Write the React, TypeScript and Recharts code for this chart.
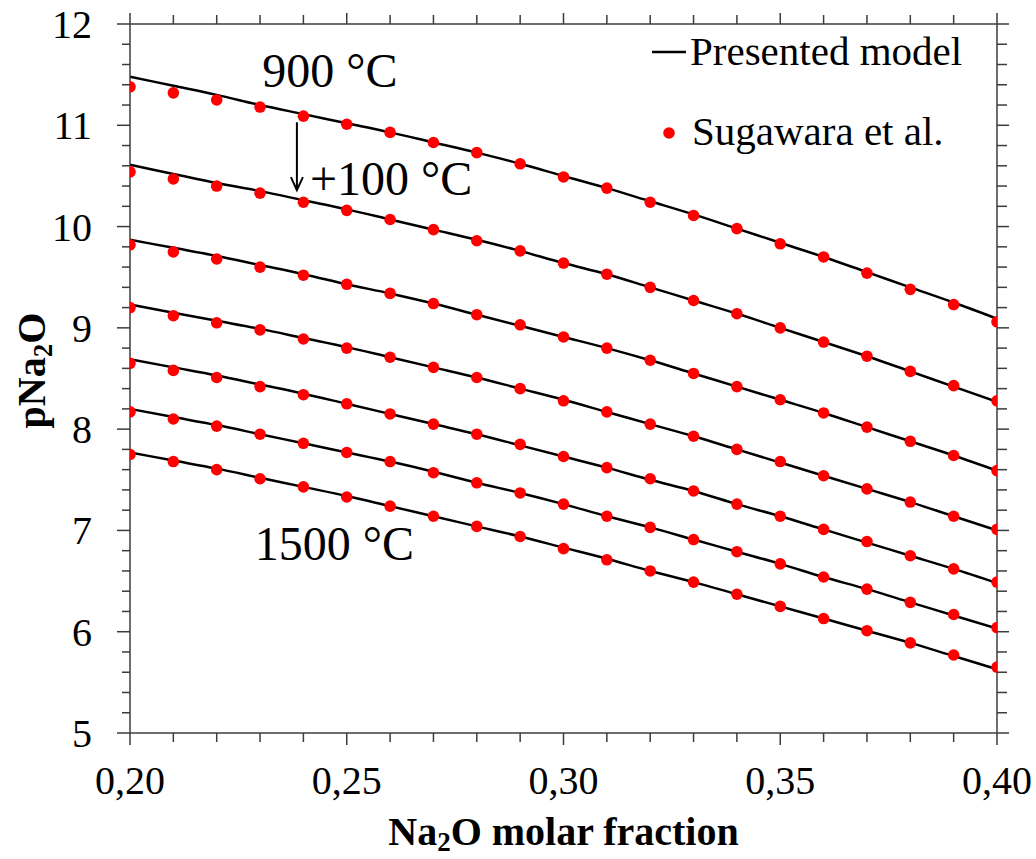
import { ComposedChart, Line, XAxis, YAxis, Legend, ReferenceDot, ReferenceLine } from 'recharts'

// Na2O molar fraction grid
const molarFraction = [0.2, 0.21, 0.22, 0.23, 0.24, 0.25, 0.26, 0.27, 0.28, 0.29, 0.3, 0.31, 0.32, 0.33, 0.34, 0.35, 0.36, 0.37, 0.38, 0.39, 0.4]

// model curves, pNa2O
const model900 = [11.48, 11.39, 11.3, 11.2, 11.11, 11.02, 10.93, 10.83, 10.73, 10.62, 10.5, 10.38, 10.25, 10.12, 9.98, 9.84, 9.7, 9.55, 9.4, 9.25, 9.09]
const model1000 = [10.61, 10.52, 10.43, 10.35, 10.26, 10.17, 10.07, 9.97, 9.87, 9.76, 9.64, 9.53, 9.4, 9.27, 9.14, 9.0, 8.86, 8.72, 8.57, 8.42, 8.27]
const model1100 = [9.87, 9.79, 9.71, 9.62, 9.53, 9.43, 9.34, 9.24, 9.13, 9.02, 8.91, 8.8, 8.68, 8.55, 8.42, 8.29, 8.16, 8.02, 7.88, 7.74, 7.59]
const model1200 = [9.23, 9.15, 9.07, 8.99, 8.9, 8.81, 8.71, 8.61, 8.51, 8.4, 8.29, 8.17, 8.05, 7.93, 7.8, 7.67, 7.54, 7.41, 7.28, 7.14, 7.0]
const model1300 = [8.69, 8.61, 8.53, 8.44, 8.35, 8.25, 8.15, 8.05, 7.95, 7.84, 7.73, 7.62, 7.5, 7.39, 7.26, 7.14, 7.01, 6.88, 6.75, 6.62, 6.48]
const model1400 = [8.2, 8.12, 8.04, 7.95, 7.86, 7.77, 7.68, 7.58, 7.47, 7.37, 7.26, 7.14, 7.03, 6.91, 6.79, 6.67, 6.54, 6.42, 6.29, 6.16, 6.03]
const model1500 = [7.77, 7.69, 7.61, 7.52, 7.43, 7.34, 7.24, 7.14, 7.04, 6.94, 6.83, 6.72, 6.6, 6.49, 6.37, 6.25, 6.13, 6.01, 5.89, 5.76, 5.63]

// Sugawara et al. measurements
const sugawara900 = [11.38, 11.32, 11.25, 11.18, 11.09, 11.01, 10.93, 10.83, 10.73, 10.62, 10.49, 10.38, 10.24, 10.11, 9.98, 9.83, 9.7, 9.54, 9.38, 9.23, 9.06]
const sugawara1000 = [10.54, 10.47, 10.4, 10.33, 10.24, 10.16, 10.07, 9.97, 9.86, 9.76, 9.64, 9.53, 9.4, 9.27, 9.14, 9.0, 8.86, 8.72, 8.57, 8.43, 8.28]
const sugawara1100 = [9.82, 9.75, 9.68, 9.6, 9.52, 9.43, 9.34, 9.24, 9.13, 9.03, 8.91, 8.8, 8.68, 8.55, 8.42, 8.29, 8.16, 8.02, 7.88, 7.74, 7.59]
const sugawara1200 = [9.2, 9.12, 9.05, 8.98, 8.89, 8.8, 8.71, 8.61, 8.51, 8.4, 8.28, 8.17, 8.05, 7.93, 7.8, 7.68, 7.54, 7.41, 7.28, 7.14, 7.01]
const sugawara1300 = [8.65, 8.58, 8.51, 8.42, 8.34, 8.25, 8.15, 8.05, 7.95, 7.85, 7.73, 7.62, 7.51, 7.39, 7.26, 7.14, 7.01, 6.89, 6.75, 6.62, 6.49]
const sugawara1400 = [8.17, 8.1, 8.03, 7.95, 7.86, 7.77, 7.68, 7.57, 7.47, 7.37, 7.26, 7.14, 7.03, 6.91, 6.79, 6.67, 6.54, 6.42, 6.29, 6.17, 6.04]
const sugawara1500 = [7.75, 7.68, 7.6, 7.51, 7.43, 7.33, 7.24, 7.14, 7.04, 6.94, 6.82, 6.71, 6.6, 6.49, 6.37, 6.25, 6.13, 6.01, 5.89, 5.77, 5.65]

const temperatures = [900, 1000, 1100, 1200, 1300, 1400, 1500]
const models = [model900, model1000, model1100, model1200, model1300, model1400, model1500]
const measured = [sugawara900, sugawara1000, sugawara1100, sugawara1200, sugawara1300, sugawara1400, sugawara1500]

// axis ticks (major ones get labels)
const xMajorTicks = [0.2, 0.25, 0.3, 0.35, 0.4]
const yMajorTicks = [5, 6, 7, 8, 9, 10, 11, 12]
const xTicks = Array.from({ length: 21 }, (_, i) => Math.round((0.2 + i * 0.01) * 100) / 100)
const yTicks = Array.from({ length: 36 }, (_, i) => Math.round((5 + i * 0.2) * 10) / 10)

const data = molarFraction.map((x, i) => {
  const row: Record<string, number> = { x }
  temperatures.forEach((t, k) => {
    row[`m${t}`] = models[k][i]
    row[`s${t}`] = measured[k][i]
  })
  return row
})

const FONT = '"Liberation Serif", "Times New Roman", serif'
const AXIS = '#3c3c3c'
const DOT = '#ff0000'

const isMajorX = (v: number) => xMajorTicks.some((m) => Math.abs(m - v) < 1e-6)
const isMajorY = (v: number) => yMajorTicks.some((m) => Math.abs(m - v) < 1e-6)
const fmtX = (v: number) => v.toFixed(2).replace('.', ',')

function BottomTick({ x, y, payload }: any) {
  const major = isMajorX(payload.value)
  return (
    <g>
      <line x1={x} y1={y} x2={x} y2={y + (major ? 12 : 9)} stroke={AXIS} strokeWidth={1.5} />
      {major && (
        <text x={x} y={y + 61} textAnchor="middle" fontSize={40} fontFamily={FONT} fill="#000">
          {fmtX(payload.value)}
        </text>
      )}
    </g>
  )
}

function TopTick({ x, y, payload }: any) {
  const major = isMajorX(payload.value)
  return <line x1={x} y1={y} x2={x} y2={y - (major ? 11 : 9)} stroke={AXIS} strokeWidth={1.5} />
}

function LeftTick({ x, y, payload }: any) {
  const major = isMajorY(payload.value)
  return (
    <g>
      <line x1={x} y1={y} x2={x - (major ? 13 : 8)} y2={y} stroke={AXIS} strokeWidth={1.5} />
      {major && (
        <text x={x - 38} y={y} dy="0.35em" textAnchor="end" fontSize={40} fontFamily={FONT} fill="#000">
          {payload.value}
        </text>
      )}
    </g>
  )
}

function RightTick({ x, y, payload }: any) {
  const major = isMajorY(payload.value)
  return <line x1={x} y1={y} x2={x + (major ? 12 : 10)} y2={y} stroke={AXIS} strokeWidth={1.5} />
}

function XTitle({ viewBox }: any) {
  const cx = viewBox.x + viewBox.width / 2
  return (
    <text x={cx} y={viewBox.y + 112} textAnchor="middle" fontSize={40} fontWeight="bold" fontFamily={FONT} fill="#000">
      Na<tspan fontSize={27} dy={6}>2</tspan>
      <tspan dy={-6}>O molar fraction</tspan>
    </text>
  )
}

function YTitle({ viewBox }: any) {
  const cx = 45
  const cy = viewBox.y + viewBox.height / 2 - 8
  return (
    <text
      x={cx}
      y={cy}
      transform={`rotate(-90, ${cx}, ${cy})`}
      textAnchor="middle"
      fontSize={40}
      fontWeight="bold"
      fontFamily={FONT}
      fill="#000"
    >
      pNa<tspan fontSize={27} dy={7}>2</tspan>
      <tspan dy={-7}>O</tspan>
    </text>
  )
}

function Note({ viewBox, value, size }: any) {
  return (
    <text x={viewBox.x} y={viewBox.y} fontSize={size} fontFamily={FONT} fill="#000">
      {value}
    </text>
  )
}

function Arrow({ x1, y1, x2, y2 }: any) {
  const top = Math.min(y1, y2)
  const tip = Math.max(y1, y2)
  return (
    <g>
      <line x1={x1} y1={top} x2={x2} y2={tip} stroke="#000" strokeWidth={2} />
      <polyline points={`${x2 - 6},${tip - 13} ${x2},${tip} ${x2 + 6},${tip - 13}`} fill="none" stroke="#000" strokeWidth={2} />
    </g>
  )
}

function LegendBox() {
  return (
    <svg width={380} height={140} style={{ display: 'block', overflow: 'visible' }}>
      <line x1={12} y1={32} x2={46} y2={32} stroke="#000" strokeWidth={2.5} />
      <text x={50} y={45} fontSize={41} fontFamily={FONT} fill="#000">
        Presented model
      </text>
      <circle cx={29} cy={113} r={5.8} fill={DOT} />
      <text x={52} y={125} fontSize={41} fontFamily={FONT} fill="#000">
        Sugawara et al.
      </text>
    </svg>
  )
}

export default function App() {
  return (
    <div style={{ position: 'absolute', left: 0, top: 0, background: '#fff' }}>
      <ComposedChart width={1036} height={859} data={data} margin={{ top: 0, right: 0, bottom: 0, left: 0 }} style={{ fontFamily: FONT }}>
        <XAxis
          xAxisId="bottom"
          dataKey="x"
          type="number"
          domain={[0.2, 0.4]}
          allowDataOverflow
          ticks={xTicks}
          interval={0}
          height={126}
          tickSize={0}
          tickMargin={0}
          tickLine={false}
          axisLine={{ stroke: AXIS, strokeWidth: 1.5 }}
          tick={<BottomTick />}
          label={<XTitle />}
        />
        <XAxis
          xAxisId="top"
          orientation="top"
          dataKey="x"
          type="number"
          domain={[0.2, 0.4]}
          allowDataOverflow
          ticks={xTicks}
          interval={0}
          height={24}
          tickSize={0}
          tickMargin={0}
          tickLine={false}
          axisLine={{ stroke: AXIS, strokeWidth: 1.5 }}
          tick={<TopTick />}
        />
        <YAxis
          yAxisId="left"
          type="number"
          domain={[5, 12]}
          allowDataOverflow
          ticks={yTicks}
          interval={0}
          width={130}
          tickSize={0}
          tickMargin={0}
          tickLine={false}
          axisLine={{ stroke: AXIS, strokeWidth: 1.5 }}
          tick={<LeftTick />}
          label={<YTitle />}
        />
        <YAxis
          yAxisId="right"
          orientation="right"
          type="number"
          domain={[5, 12]}
          allowDataOverflow
          ticks={yTicks}
          interval={0}
          width={39}
          tickSize={0}
          tickMargin={0}
          tickLine={false}
          axisLine={{ stroke: AXIS, strokeWidth: 1.5 }}
          tick={<RightTick />}
        />

        {temperatures.map((t) => (
          <Line
            key={`m${t}`}
            xAxisId="bottom"
            yAxisId="left"
            type="monotone"
            dataKey={`m${t}`}
            stroke="#000"
            strokeWidth={2.5}
            dot={false}
            activeDot={false}
            isAnimationActive={false}
          />
        ))}
        {temperatures.map((t) => (
          <Line
            key={`s${t}`}
            xAxisId="bottom"
            yAxisId="left"
            dataKey={`s${t}`}
            stroke="none"
            dot={{ r: 5.8, fill: DOT, stroke: 'none' }}
            activeDot={false}
            isAnimationActive={false}
          />
        ))}

        <ReferenceLine
          xAxisId="bottom"
          yAxisId="left"
          segment={[
            { x: 0.2385, y: 11.03 },
            { x: 0.2385, y: 10.36 },
          ]}
          shape={<Arrow />}
        />
        <ReferenceDot xAxisId="bottom" yAxisId="left" x={0.2305} y={11.375} r={0} fill="none" stroke="none" label={<Note value="900 °C" size={48} />} />
        <ReferenceDot xAxisId="bottom" yAxisId="left" x={0.2415} y={10.31} r={0} fill="none" stroke="none" label={<Note value="+100 °C" size={48} />} />
        <ReferenceDot xAxisId="bottom" yAxisId="left" x={0.2288} y={6.705} r={0} fill="none" stroke="none" label={<Note value="1500 °C" size={48} />} />

        <Legend
          layout="vertical"
          align="center"
          verticalAlign="middle"
          content={<LegendBox />}
          wrapperStyle={{ position: 'absolute', left: 640, top: 20, width: 380, height: 140 }}
        />
      </ComposedChart>
    </div>
  )
}
